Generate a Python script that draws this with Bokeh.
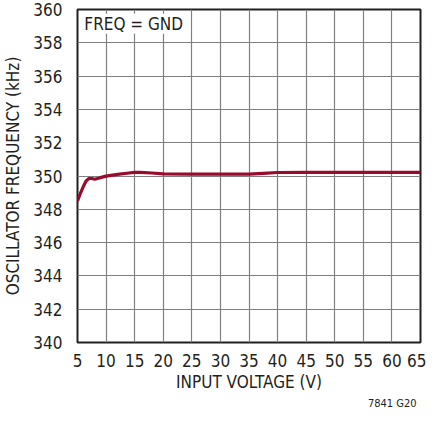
from bokeh.plotting import figure
from bokeh.models import Range1d, FixedTicker, Label, Title
from bokeh.embed import file_html
from bokeh.resources import INLINE

voltage = [5, 5.5, 6, 6.5, 7, 7.5, 8, 9, 10, 12, 14, 15, 16, 18, 20, 25, 30, 35, 37.5, 40, 45, 50, 55, 60, 65]
freq = [348.5, 348.95, 349.35, 349.7, 349.85, 349.85, 349.8, 349.9, 349.99, 350.1, 350.18, 350.22, 350.22, 350.18, 350.13, 350.11, 350.11, 350.11, 350.16, 350.21, 350.22, 350.22, 350.22, 350.22, 350.22]
x_ticks = [5, 10, 15, 20, 25, 30, 35, 40, 45, 50, 55, 60, 65]
y_ticks = [340, 342, 344, 346, 348, 350, 352, 354, 356, 358, 360]

FONT = "DejaVu Sans Condensed"
TXT = "#231f20"

p = figure(width=426, height=409, output_backend="svg", toolbar_location=None,
           x_range=Range1d(5, 65), y_range=Range1d(340, 360),
           min_border_left=68, min_border_right=6, min_border_top=9, min_border_bottom=30)

p.background_fill_color = "white"
p.outline_line_color = "#231f20"
p.outline_line_width = 2

for ax in (p.xaxis, p.yaxis):
    ax.axis_line_color = None
    ax.major_tick_line_color = None
    ax.minor_tick_line_color = None
    ax.major_label_text_font = FONT
    ax.major_label_text_font_size = "17px"
    ax.major_label_text_color = TXT
    ax.axis_label_text_font = FONT
    ax.axis_label_text_font_size = "17px"
    ax.axis_label_text_font_style = "normal"
    ax.axis_label_text_color = TXT

p.xaxis.ticker = FixedTicker(ticks=x_ticks)
p.yaxis.ticker = FixedTicker(ticks=y_ticks)
p.xaxis.major_label_standoff = 5
p.yaxis.major_label_standoff = 9
p.xaxis.axis_label = "INPUT VOLTAGE (V)"
p.yaxis.axis_label = "OSCILLATOR FREQUENCY (kHz)"
p.xaxis.axis_label_standoff = 2
p.yaxis.axis_label_standoff = 7

p.xgrid.ticker = FixedTicker(ticks=x_ticks)
p.ygrid.ticker = FixedTicker(ticks=y_ticks)
for g in (p.xgrid, p.ygrid):
    g.grid_line_color = "#808080"
    g.grid_line_width = 1.2

p.line(voltage, freq, line_color="#990a2c", line_width=3.2)

p.add_layout(Label(x=6.2, y=359.15, text="FREQ = GND", text_font=FONT, text_font_size="17px",
                   text_color=TXT, text_baseline="middle", text_align="left",
                   background_fill_color="white"))
p.add_layout(Title(text="7841 G20", align="right", text_font=FONT, text_font_size="11px",
                   text_font_style="normal", text_color=TXT, standoff=0, offset=4), "below")

open("out.html", "w").write(file_html(p, INLINE))
